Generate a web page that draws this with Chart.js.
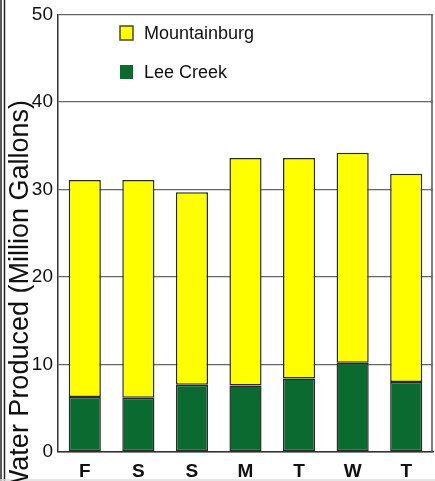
<!DOCTYPE html>
<html>
<head>
<meta charset="utf-8">
<script src="https://cdn.jsdelivr.net/npm/chart.js@4"></script>
<style>
  html, body { margin: 0; padding: 0; background: #fff; }
  #wrap { width: 435px; height: 481px; position: relative; }
</style>
</head>
<body>
<div id="wrap"><canvas id="waterChart" width="435" height="481"></canvas></div>
<script>
// data
const days = ['F', 'S', 'S', 'M', 'T', 'W', 'T'];
const leeCreek = [6.3, 6.2, 7.7, 7.6, 8.4, 10.2, 8.0];
const mountainburg = [24.8, 24.9, 22.0, 26.0, 25.2, 24.0, 23.8];
const yTicks = [0, 10, 20, 30, 40, 50];
const yTitle = 'Water Produced (Million Gallons)';

const YELLOW = '#ffff00';
const GREEN = '#0b6a30';
const EDGE = '#2a2a2a';

// legend + axis title + frame, drawn by hand to sit where the original has them
const extras = {
    id: 'extras',
    afterDraw(chart) {
        const ctx = chart.ctx;
        const area = chart.chartArea;
        ctx.save();

        // left double frame, right plot edge, faint bottom rule
        ctx.strokeStyle = '#222';
        ctx.lineWidth = 1.5;
        [1, 4.5].forEach(x => {
            ctx.beginPath(); ctx.moveTo(x, 0); ctx.lineTo(x, 481); ctx.stroke();
        });
        ctx.strokeStyle = '#555';
        ctx.beginPath(); ctx.moveTo(432, area.top); ctx.lineTo(432, area.bottom); ctx.stroke();
        ctx.strokeStyle = '#ddd';
        ctx.beginPath(); ctx.moveTo(0, 480); ctx.lineTo(435, 480); ctx.stroke();

        // legend
        const items = [
            { label: 'Mountainburg', fill: YELLOW, y: 33 },
            { label: 'Lee Creek', fill: GREEN, y: 72 }
        ];
        ctx.font = '18px "Liberation Sans", Arial, sans-serif';
        ctx.textBaseline = 'middle';
        items.forEach(it => {
            ctx.fillStyle = it.fill;
            ctx.fillRect(120, it.y - 7, 13, 14);
            if (it.fill === YELLOW) {
                ctx.strokeStyle = '#4a4a2a';
                ctx.lineWidth = 1.5;
                ctx.strokeRect(120, it.y - 7, 13, 14);
            }
            ctx.fillStyle = '#111';
            ctx.fillText(it.label, 144, it.y + 1);
        });

        // rotated y axis title
        ctx.font = '27px "Liberation Sans", Arial, sans-serif';
        const w = ctx.measureText(yTitle).width;
        ctx.translate(28, 100 + w / 2);
        ctx.rotate(-Math.PI / 2);
        ctx.textAlign = 'center';
        ctx.textBaseline = 'alphabetic';
        ctx.fillStyle = '#111';
        ctx.fillText(yTitle, 0, 0);
        ctx.restore();
    }
};

document.addEventListener('DOMContentLoaded', () => {
    try {
        const ctx = document.getElementById('waterChart').getContext('2d');
        new Chart(ctx, {
            type: 'bar',
            data: {
                labels: days,
                datasets: [
                    {
                        label: 'Lee Creek', data: leeCreek, backgroundColor: GREEN,
                        borderColor: EDGE, borderWidth: 1.5, borderSkipped: false,
                        categoryPercentage: 1, barPercentage: 0.6
                    },
                    {
                        label: 'Mountainburg', data: mountainburg, backgroundColor: YELLOW,
                        borderColor: EDGE, borderWidth: 1.5, borderSkipped: false,
                        categoryPercentage: 1, barPercentage: 0.6
                    }
                ]
            },
            options: {
                responsive: false,
                animation: false,
                devicePixelRatio: 1,
                layout: { padding: { top: 7, right: 2, left: 0, bottom: 0 } },
                plugins: { legend: { display: false }, tooltip: { enabled: false } },
                scales: {
                    x: {
                        stacked: true,
                        grid: { display: false },
                        border: { color: '#333', width: 1.5 },
                        ticks: { color: '#111', padding: 0, font: { family: '"Liberation Sans", Arial', size: 19, weight: 'bold' } },
                        afterFit: s => { s.height = 29; }
                    },
                    y: {
                        stacked: true,
                        min: 0, max: 50,
                        afterBuildTicks: s => { s.ticks = yTicks.map(v => ({ value: v })); },
                        grid: { color: '#666', lineWidth: 1.3, drawTicks: false },
                        border: { color: '#333', width: 1.5 },
                        ticks: { color: '#111', padding: 5, font: { family: '"Liberation Sans", Arial', size: 19, lineHeight: 1 } },
                        afterFit: s => { s.width = 58; }
                    }
                }
            },
            plugins: [extras]
        });
    } catch (e) { console.warn('chart failed', e); }
});
</script>
</body>
</html>
